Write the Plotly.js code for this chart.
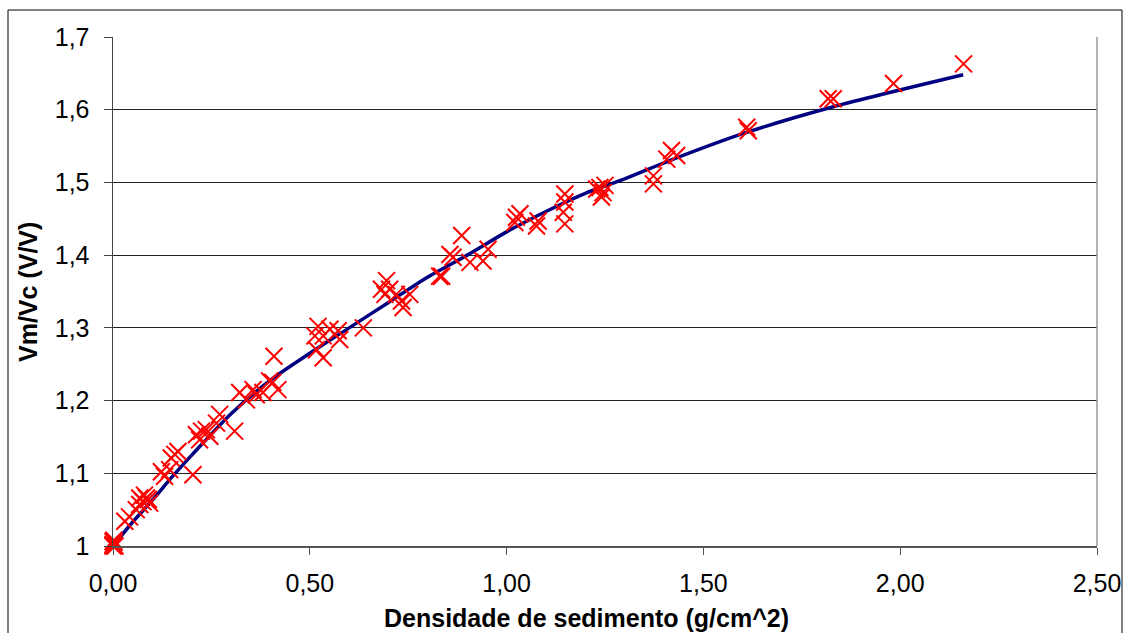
<!DOCTYPE html>
<html>
<head>
<meta charset="utf-8">
<script src="https://cdn.plot.ly/plotly-3.0.1.min.js"></script>
<style>html,body{margin:0;padding:0;background:#fff;}#chart{width:1127px;height:633px;}</style>
</head>
<body>
<div id="chart"></div>
<script>
// Measured points: sediment density (g/cm^2) vs Vm/Vc (V/V)
const densidade = [
  0, 0, 0.003, 0.005, 0.002, 0,
  0.03, 0.042, 0.059, 0.068, 0.076, 0.085, 0.093, 0.068, 0.08, 0.09,
  0.123, 0.131, 0.144, 0.203, 0.157, 0.165, 0.148,
  0.212, 0.225, 0.237, 0.246, 0.22, 0.271, 0.263, 0.309,
  0.322, 0.339, 0.356, 0.364, 0.381, 0.398, 0.419, 0.406, 0.409,
  0.521, 0.513, 0.534, 0.551, 0.572, 0.576, 0.517, 0.534, 0.636,
  0.695, 0.682, 0.703, 0.72, 0.733, 0.737, 0.754, 0.691,
  0.835, 0.830, 0.856, 0.864, 0.886, 0.907, 0.94, 0.953,
  1.025, 1.021, 1.034, 1.08, 1.076, 1.148, 1.148, 1.148, 1.144,
  1.237, 1.245, 1.229, 1.241, 1.25,
  1.373, 1.373, 1.419, 1.407, 1.432,
  1.61, 1.614, 1.817, 1.83, 1.983, 2.161
];
const vmvc = [
  1.0, 1.002, 1.005, 1.0, 1.008, 1.006,
  1.034, 1.040, 1.050, 1.057, 1.061, 1.066, 1.059, 1.066, 1.07, 1.064,
  1.102, 1.096, 1.105, 1.098, 1.126, 1.130, 1.121,
  1.153, 1.158, 1.160, 1.151, 1.146, 1.181, 1.169, 1.158,
  1.211, 1.201, 1.215, 1.208, 1.211, 1.227, 1.215, 1.225, 1.261,
  1.302, 1.289, 1.289, 1.298, 1.296, 1.284, 1.270, 1.259, 1.300,
  1.365, 1.353, 1.353, 1.346, 1.337, 1.328, 1.346, 1.346,
  1.371, 1.371, 1.401, 1.397, 1.427, 1.39, 1.392, 1.408,
  1.452, 1.445, 1.457, 1.447, 1.44, 1.484, 1.473, 1.443, 1.459,
  1.493, 1.486, 1.491, 1.480, 1.496,
  1.509, 1.498, 1.544, 1.532, 1.537,
  1.576, 1.571, 1.615, 1.615, 1.636, 1.663
];
// Fitted curve
const ajusteX = [0, 0.05, 0.1, 0.15, 0.2, 0.3, 0.4, 0.5, 0.6, 0.7, 0.8, 0.9, 1.0, 1.1, 1.2, 1.3, 1.4, 1.6, 1.83, 2.16];
const ajusteY = [1.0, 1.033, 1.063, 1.095, 1.125, 1.182, 1.228, 1.265, 1.300, 1.335, 1.370, 1.400, 1.432, 1.460, 1.485, 1.505, 1.527, 1.567, 1.604, 1.648];

const xTicks = [0, 0.5, 1.0, 1.5, 2.0, 2.5];
const yTicks = [1.0, 1.1, 1.2, 1.3, 1.4, 1.5, 1.6, 1.7];

const xTitle = 'Densidade de sedimento (g/cm^2)';
const yTitle = 'Vm/Vc (V/V)';

const font = 'Liberation Sans, Arial, sans-serif';

const traces = [
  {
    x: ajusteX, y: ajusteY, type: 'scatter', mode: 'lines',
    line: {color: '#000080', width: 3.5, shape: 'spline', smoothing: 0.8},
    hoverinfo: 'skip', showlegend: false
  },
  {
    x: densidade, y: vmvc, type: 'scatter', mode: 'markers', cliponaxis: false,
    marker: {symbol: 'x-thin-open', size: 17, color: '#ff0000', line: {color: '#ff0000', width: 2}},
    hoverinfo: 'skip', showlegend: false
  }
];

const layout = {
  width: 1127, height: 633,
  margin: {l: 113, r: 30, t: 37, b: 87},
  paper_bgcolor: '#ffffff', plot_bgcolor: '#ffffff',
  separators: ', ',
  showlegend: false,
  font: {family: font, color: '#000'},
  xaxis: {
    range: [0, 2.5], tickvals: xTicks, tickformat: '.2f',
    showgrid: false, zeroline: false,
    showline: true, linecolor: '#555', linewidth: 1.5, mirror: false,
    ticks: 'outside', ticklen: 7, tickcolor: '#555', tickwidth: 1,
    ticklabelstandoff: 7,
    tickfont: {family: font, size: 25, color: '#000'}
  },
  yaxis: {
    range: [1, 1.7], tickvals: yTicks,
    showgrid: true, gridcolor: '#222', gridwidth: 1, zeroline: false,
    showline: true, linecolor: '#444', linewidth: 1.5, mirror: false,
    ticks: 'outside', ticklen: 8, tickcolor: '#444', tickwidth: 1,
    ticklabelstandoff: 9,
    tickfont: {family: font, size: 25, color: '#000'}
  },
  annotations: [
    {text: '<b>' + xTitle + '</b>', xref: 'paper', yref: 'paper', x: 0.4817, y: -0.1415,
     xanchor: 'center', yanchor: 'middle', showarrow: false, font: {family: font, size: 25, color: '#000'}},
    {text: '<b>' + yTitle + '</b>', xref: 'paper', yref: 'paper', x: -0.0864, y: 0.499, textangle: -90,
     xanchor: 'center', yanchor: 'middle', showarrow: false, font: {family: font, size: 25, color: '#000'}}
  ],
  shapes: [
    {type: 'line', xref: 'paper', yref: 'paper', x0: 1, x1: 1, y0: 0, y1: 1, line: {color: '#999', width: 1.5}},
    {type: 'rect', xref: 'paper', yref: 'paper', x0: -0.1067, x1: 1.0254, y0: -0.2, y1: 1.053, line: {color: '#000', width: 1}, fillcolor: 'rgba(0,0,0,0)'}
  ]
};

Plotly.newPlot('chart', traces, layout, {staticPlot: true, displayModeBar: false});
</script>
</body>
</html>
